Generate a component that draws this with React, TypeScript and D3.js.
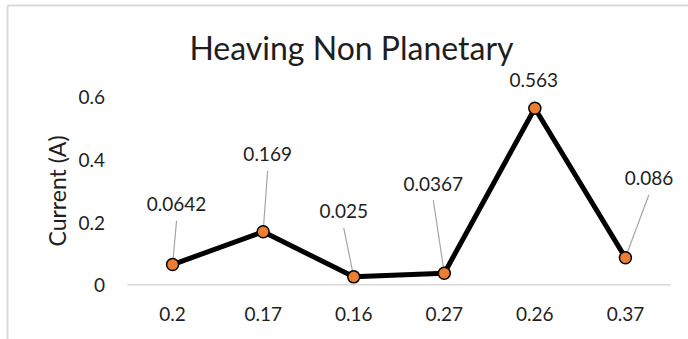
import React from "react";
import * as d3 from "d3";

const categories = ["0.2", "0.17", "0.16", "0.27", "0.26", "0.37"];
const currentValues = [0.0642, 0.169, 0.025, 0.0367, 0.563, 0.086];
const valueLabels = ["0.0642", "0.169", "0.025", "0.0367", "0.563", "0.086"];
const yTicks = [0, 0.2, 0.4, 0.6];
const yTickLabels = ["0", "0.2", "0.4", "0.6"];

// label placement offsets (px) relative to each point
const labelOffsets: [number, number][] = [
  [4, -61],
  [4.5, -78],
  [-10, -66],
  [-11, -90],
  [-1, -29],
  [23.5, -80],
];

const W = 688;
const H = 339;
const FONT = "Lato, 'Open Sans', sans-serif";
const TEXT = "#1e1e1e";

export default function App() {
  const x = d3
    .scaleBand<string>()
    .domain(categories)
    .range([127.3, 670.7])
    .paddingInner(0)
    .paddingOuter(0);
  const y = d3.scaleLinear().domain([0, 0.6]).range([284.7, 96.6]);

  const cx = (i: number) => (x(categories[i]) as number) + x.bandwidth() / 2;
  const cy = (i: number) => y(currentValues[i]);

  const line = d3
    .line<number>()
    .x((_, i) => cx(i))
    .y((d) => y(d));

  return (
    <svg
      width={W}
      height={H}
      style={{ position: "absolute", left: 0, top: 0, background: "#fff" }}
      fontFamily={FONT}
    >
      <rect x={0} y={0} width={W} height={H} fill="#fff" />
      {/* chart area border */}
      <line x1={7.5} y1={5.5} x2={W} y2={5.5} stroke="#d9d9d9" strokeWidth={2} />
      <line x1={7.5} y1={5.5} x2={7.5} y2={H} stroke="#d9d9d9" strokeWidth={2} />

      {/* title */}
      <text
        x={351.5}
        y={47}
        textAnchor="middle"
        dominantBaseline="central"
        fontSize={32}
        fill={TEXT}
      >
        Heaving Non Planetary
      </text>

      {/* y axis title */}
      <text
        transform={`translate(57,191) rotate(-90)`}
        textAnchor="middle"
        dominantBaseline="central"
        fontSize={23}
        fill={TEXT}
      >
        Current (A)
      </text>

      {/* y tick labels */}
      {yTicks.map((t, i) => (
        <text
          key={"yt" + i}
          x={105}
          y={y(t)}
          textAnchor="end"
          dominantBaseline="central"
          fontSize={19}
          fill={TEXT}
        >
          {yTickLabels[i]}
        </text>
      ))}

      {/* x axis line */}
      <line
        x1={x.range()[0]}
        x2={x.range()[1]}
        y1={y(0)}
        y2={y(0)}
        stroke="#d9d9d9"
        strokeWidth={1.5}
      />

      {/* x tick labels */}
      {categories.map((c, i) => (
        <text
          key={"xt" + i}
          x={cx(i)}
          y={313.5}
          textAnchor="middle"
          dominantBaseline="central"
          fontSize={19}
          fill={TEXT}
        >
          {c}
        </text>
      ))}

      {/* leader lines */}
      {currentValues.map((v, i) => {
        const lx = cx(i) + labelOffsets[i][0];
        const ly = cy(i) + labelOffsets[i][1];
        const sy = ly + 17;
        if (cy(i) - sy < 15) return null;
        return (
          <line
            key={"ll" + i}
            x1={lx}
            y1={sy}
            x2={cx(i)}
            y2={cy(i)}
            stroke="#a6a6a6"
            strokeWidth={1.2}
          />
        );
      })}

      {/* series line */}
      <path
        d={line(currentValues) as string}
        fill="none"
        stroke="#000"
        strokeWidth={5}
        strokeLinejoin="round"
      />

      {/* markers */}
      {currentValues.map((v, i) => (
        <circle
          key={"m" + i}
          cx={cx(i)}
          cy={cy(i)}
          r={6}
          fill="#ED7D31"
          stroke="#000"
          strokeWidth={1.5}
        />
      ))}

      {/* data labels */}
      {currentValues.map((v, i) => (
        <text
          key={"dl" + i}
          x={cx(i) + labelOffsets[i][0]}
          y={cy(i) + labelOffsets[i][1]}
          textAnchor="middle"
          dominantBaseline="central"
          fontSize={19}
          fill={TEXT}
        >
          {valueLabels[i]}
        </text>
      ))}
    </svg>
  );
}
